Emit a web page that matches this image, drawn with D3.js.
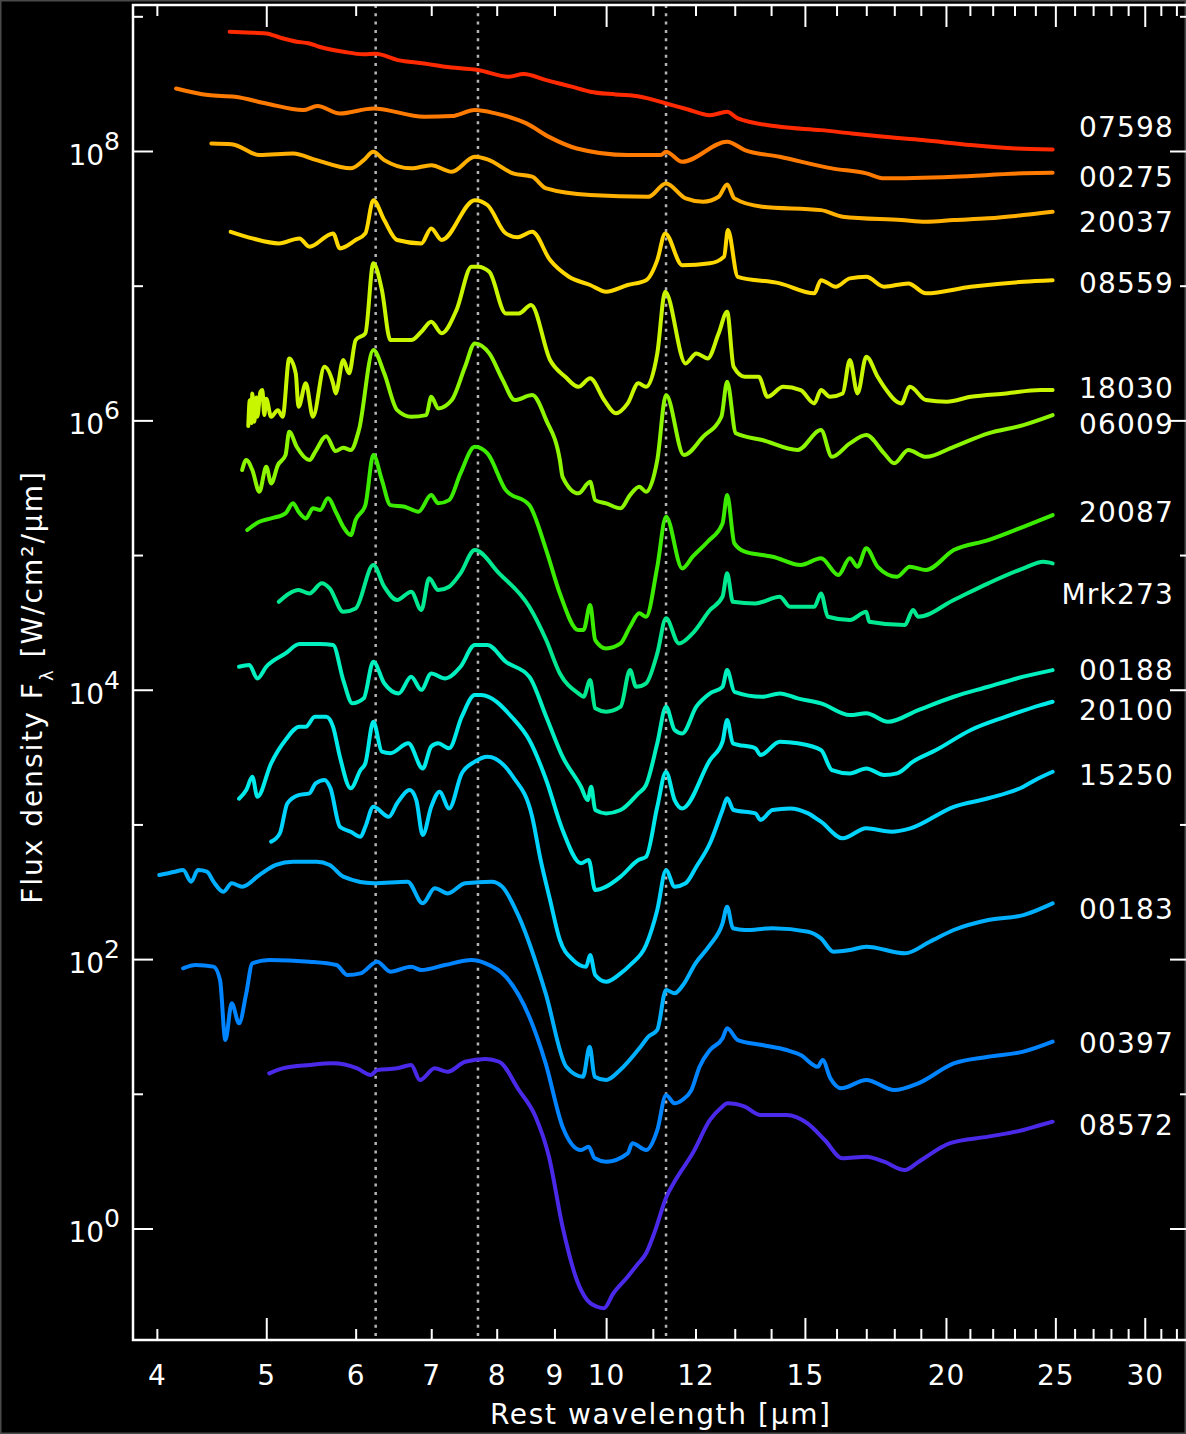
<!DOCTYPE html>
<html>
<head>
<meta charset="utf-8">
<script src="https://cdn.jsdelivr.net/npm/d3@7"></script>
<style>
  html, body { margin: 0; padding: 0; background: #000; }
  svg { display: block; }
</style>
</head>
<body>
<div id="chart"></div>
<script>
// ---------------- DATA ----------------
// Each spectrum: [rest wavelength (µm), log10 Fλ (W/cm²/µm)]
const s07598 = [[4.64,8.885],[4.8,8.88],[5.0,8.873],[5.15,8.84],[5.32,8.811],[5.45,8.80],[5.57,8.774],[5.85,8.737],[6.1,8.718],[6.25,8.722],[6.54,8.675],[6.9,8.65],[7.2,8.625],[7.7,8.601],[8.2,8.551],[8.45,8.571],[8.85,8.526],[9.3,8.48],[9.68,8.44],[10.2,8.42],[10.73,8.403],[11.3,8.353],[11.8,8.31],[12.36,8.266],[12.8,8.291],[13.08,8.242],[14.25,8.18],[15.5,8.155],[16.5,8.13],[17.63,8.105],[19.06,8.081],[21.04,8.044],[23.08,8.019],[24.86,8.012]];
const s00275 = [[4.16,8.464],[4.44,8.415],[4.69,8.403],[5.0,8.353],[5.39,8.304],[5.55,8.334],[5.81,8.279],[6.22,8.316],[6.9,8.254],[7.3,8.259],[7.65,8.304],[7.98,8.279],[8.5,8.205],[8.9,8.105],[9.42,8.019],[10.45,7.97],[11.18,7.97],[11.3,7.995],[11.68,7.92],[12.8,8.069],[13.27,8.007],[14.25,7.957],[15.85,7.871],[17.0,7.834],[17.63,7.797],[20.32,7.809],[23.42,7.834],[24.86,7.838]];
const s20037 = [[4.47,8.056],[4.66,8.051],[4.93,7.97],[5.28,7.982],[5.54,7.932],[5.94,7.871],[6.1,7.932],[6.22,7.994],[6.36,7.932],[6.72,7.871],[7.0,7.895],[7.3,7.846],[7.65,7.957],[7.85,7.938],[8.27,7.834],[8.6,7.809],[8.85,7.722],[9.68,7.673],[10.9,7.66],[11.3,7.759],[11.76,7.648],[12.19,7.623],[12.58,7.66],[12.8,7.752],[12.99,7.648],[13.75,7.586],[15.5,7.561],[16.2,7.512],[18.26,7.487],[19.2,7.475],[20.32,7.487],[21.8,7.5],[23.42,7.524],[24.86,7.549]];
const s08559 = [[4.65,7.4],[4.86,7.351],[5.13,7.314],[5.35,7.351],[5.46,7.289],[5.73,7.388],[5.81,7.277],[6.0,7.339],[6.12,7.388],[6.22,7.635],[6.36,7.487],[6.53,7.339],[6.86,7.314],[7.0,7.425],[7.15,7.339],[7.65,7.635],[7.85,7.599],[8.15,7.388],[8.35,7.36],[8.6,7.40],[8.92,7.19],[9.27,7.066],[9.68,7.005],[10.0,6.955],[10.45,7.005],[10.85,7.041],[11.1,7.19],[11.28,7.388],[11.68,7.152],[12.36,7.166],[12.72,7.216],[12.82,7.413],[13.08,7.066],[14.25,7.017],[15.29,6.943],[15.5,7.041],[15.97,6.992],[16.44,7.054],[17.0,7.066],[17.63,6.992],[18.52,7.017],[19.2,6.943],[21.04,6.992],[23.42,7.029],[24.86,7.041]];
const s18030 = [[4.82,5.958],[4.835,6.15],[4.85,5.98],[4.86,6.2],[4.88,5.99],[4.9,6.17],[4.91,6.027],[4.94,6.21],[4.96,6.225],[4.98,6.04],[5.0,6.16],[5.05,6.027],[5.12,6.076],[5.17,6.027],[5.24,6.46],[5.31,6.349],[5.34,6.101],[5.42,6.275],[5.5,6.027],[5.63,6.398],[5.73,6.275],[5.76,6.2],[5.85,6.448],[5.92,6.349],[6.0,6.596],[6.12,6.646],[6.22,7.166],[6.33,6.967],[6.44,6.596],[6.72,6.596],[6.86,6.658],[7.0,6.732],[7.15,6.646],[7.37,6.819],[7.6,7.141],[7.7,7.141],[7.88,7.103],[8.15,6.794],[8.37,6.794],[8.58,6.856],[8.92,6.448],[9.2,6.324],[9.45,6.249],[9.68,6.312],[9.96,6.151],[10.2,6.052],[10.45,6.126],[10.68,6.275],[10.85,6.249],[11.1,6.497],[11.28,6.955],[11.76,6.423],[12.02,6.497],[12.3,6.46],[12.58,6.646],[12.8,6.806],[12.97,6.398],[13.27,6.324],[13.65,6.324],[13.9,6.175],[14.35,6.249],[14.87,6.225],[15.29,6.126],[15.5,6.225],[15.78,6.175],[16.2,6.2],[16.44,6.448],[16.7,6.2],[17.0,6.473],[17.4,6.324],[17.63,6.249],[18.26,6.126],[18.58,6.249],[19.2,6.151],[20.03,6.139],[21.04,6.175],[22.6,6.2],[24.26,6.225],[24.86,6.225]];
const s06009 = [[4.76,5.631],[4.8,5.705],[4.86,5.631],[4.93,5.47],[5.0,5.656],[5.05,5.532],[5.12,5.668],[5.2,5.742],[5.24,5.915],[5.32,5.804],[5.46,5.705],[5.53,5.772],[5.65,5.883],[5.76,5.772],[5.85,5.797],[5.94,5.78],[6.04,5.928],[6.22,6.522],[6.36,6.349],[6.53,6.076],[6.72,6.027],[6.93,6.039],[7.0,6.175],[7.1,6.089],[7.3,6.151],[7.5,6.398],[7.65,6.571],[7.88,6.497],[8.1,6.299],[8.3,6.151],[8.6,6.188],[8.85,6.002],[9.1,5.705],[9.15,5.581],[9.45,5.458],[9.68,5.544],[9.78,5.408],[10.0,5.384],[10.3,5.347],[10.5,5.445],[10.7,5.507],[10.85,5.47],[11.1,5.705],[11.3,6.188],[11.72,5.742],[12.19,5.879],[12.65,6.027],[12.8,6.287],[13.03,5.904],[13.75,5.854],[14.78,5.78],[15.5,5.928],[15.85,5.729],[16.44,5.829],[17.0,5.891],[17.63,5.755],[18.0,5.681],[18.52,5.78],[19.2,5.729],[20.32,5.804],[21.8,5.904],[23.42,5.965],[24.86,6.039]];
const s20087 = [[4.81,5.186],[4.93,5.247],[5.05,5.272],[5.2,5.31],[5.28,5.384],[5.34,5.322],[5.42,5.272],[5.5,5.347],[5.58,5.334],[5.67,5.421],[5.77,5.31],[5.85,5.21],[5.94,5.148],[6.0,5.26],[6.12,5.371],[6.22,5.742],[6.33,5.557],[6.44,5.371],[6.63,5.359],[6.82,5.322],[7.0,5.445],[7.1,5.384],[7.26,5.408],[7.43,5.606],[7.65,5.804],[7.85,5.755],[8.15,5.482],[8.55,5.371],[8.85,5.037],[9.1,4.715],[9.45,4.443],[9.55,4.443],[9.68,4.629],[9.78,4.369],[10.0,4.307],[10.3,4.344],[10.5,4.468],[10.7,4.567],[10.85,4.542],[11.1,4.913],[11.3,5.284],[11.68,4.901],[11.93,4.988],[12.3,5.099],[12.68,5.235],[12.8,5.445],[12.99,5.087],[13.27,5.025],[13.75,5.0],[14.04,4.988],[14.87,4.926],[15.5,4.976],[16.06,4.852],[16.44,4.976],[16.7,4.913],[17.0,5.05],[17.4,4.913],[18.1,4.839],[18.58,4.913],[19.2,4.889],[20.32,5.037],[21.8,5.111],[23.42,5.21],[24.86,5.297]];
const sMrk273 = [[5.13,4.653],[5.24,4.715],[5.34,4.74],[5.46,4.715],[5.6,4.79],[5.69,4.753],[5.85,4.579],[6.0,4.604],[6.22,4.926],[6.36,4.765],[6.53,4.666],[6.72,4.728],[6.86,4.592],[6.97,4.827],[7.1,4.74],[7.26,4.765],[7.43,4.864],[7.65,5.037],[8.04,4.864],[8.55,4.616],[8.85,4.369],[9.1,4.121],[9.45,3.973],[9.55,3.948],[9.68,4.072],[9.78,3.862],[10.0,3.837],[10.3,3.874],[10.5,4.146],[10.63,4.022],[10.85,4.048],[11.1,4.27],[11.3,4.53],[11.6,4.344],[11.93,4.419],[12.36,4.592],[12.68,4.691],[12.8,4.864],[12.95,4.653],[13.56,4.641],[14.25,4.691],[14.55,4.616],[15.29,4.616],[15.5,4.715],[15.72,4.542],[16.44,4.518],[17.0,4.579],[17.1,4.505],[18.39,4.48],[18.7,4.592],[18.9,4.542],[20.32,4.666],[21.8,4.79],[23.42,4.901],[24.4,4.95],[24.86,4.938]];
const s00188 = [[4.73,4.171],[4.83,4.183],[4.91,4.084],[5.0,4.171],[5.2,4.27],[5.35,4.339],[5.58,4.339],[5.73,4.332],[5.85,4.072],[5.96,3.899],[6.1,3.936],[6.22,4.208],[6.36,4.048],[6.55,3.973],[6.72,4.097],[6.86,3.999],[7.0,4.121],[7.2,4.084],[7.43,4.171],[7.65,4.332],[7.85,4.332],[8.15,4.208],[8.55,4.097],[8.85,3.8],[9.15,3.503],[9.5,3.28],[9.63,3.181],[9.7,3.28],[9.78,3.107],[10.0,3.082],[10.3,3.107],[10.68,3.231],[10.85,3.293],[11.1,3.602],[11.3,3.874],[11.5,3.701],[11.68,3.676],[12.02,3.874],[12.36,3.973],[12.68,4.022],[12.8,4.146],[12.99,3.985],[13.75,3.948],[14.25,3.973],[14.78,3.936],[15.5,3.899],[16.44,3.812],[17.0,3.825],[17.77,3.762],[18.9,3.849],[20.32,3.948],[21.8,4.022],[23.42,4.097],[24.86,4.146]];
const s20100 = [[4.73,3.191],[4.8,3.255],[4.86,3.354],[4.91,3.206],[5.05,3.454],[5.2,3.627],[5.35,3.725],[5.42,3.725],[5.52,3.8],[5.65,3.8],[5.73,3.725],[5.81,3.503],[5.94,3.268],[6.06,3.404],[6.12,3.454],[6.22,3.762],[6.33,3.54],[6.44,3.528],[6.68,3.602],[6.88,3.416],[7.0,3.578],[7.1,3.602],[7.26,3.565],[7.45,3.8],[7.65,3.961],[7.75,3.961],[8.27,3.788],[8.55,3.627],[8.85,3.33],[9.15,2.959],[9.5,2.712],[9.65,2.736],[9.78,2.513],[10.0,2.538],[10.3,2.612],[10.68,2.736],[10.85,2.76],[11.1,3.131],[11.3,3.39],[11.5,3.181],[11.68,3.119],[12.36,3.478],[12.68,3.614],[12.8,3.775],[12.95,3.602],[13.56,3.565],[13.7,3.515],[14.25,3.614],[14.78,3.602],[15.5,3.552],[15.85,3.404],[16.44,3.379],[17.0,3.416],[17.63,3.367],[18.1,3.379],[18.7,3.466],[19.6,3.552],[21.04,3.701],[22.6,3.8],[24.26,3.886],[24.86,3.911]];
const s15250 = [[5.05,2.872],[5.14,2.934],[5.22,3.157],[5.34,3.218],[5.46,3.231],[5.53,3.305],[5.63,3.33],[5.7,3.268],[5.81,2.983],[5.94,2.946],[6.06,2.909],[6.12,2.983],[6.22,3.131],[6.42,3.057],[6.53,3.157],[6.7,3.255],[6.79,3.181],[6.88,2.921],[7.0,3.131],[7.12,3.243],[7.26,3.119],[7.45,3.379],[7.65,3.466],[7.85,3.503],[8.27,3.354],[8.6,3.057],[8.75,2.736],[8.92,2.439],[9.1,2.142],[9.35,1.993],[9.6,1.944],[9.68,2.03],[9.78,1.882],[10.0,1.832],[10.3,1.894],[10.5,1.956],[10.85,2.105],[11.1,2.365],[11.3,2.66],[11.5,2.538],[11.76,2.563],[12.02,2.686],[12.36,2.86],[12.68,3.107],[12.8,3.194],[12.97,3.107],[13.56,3.082],[13.7,3.033],[14.04,3.107],[14.55,3.119],[15.1,3.082],[15.5,3.02],[16.2,2.897],[17.0,2.971],[17.9,2.946],[18.6,2.971],[20.32,3.131],[21.8,3.194],[23.42,3.28],[24.0,3.33],[24.86,3.391]];
const s00183 = [[4.02,2.624],[4.15,2.649],[4.22,2.661],[4.29,2.575],[4.35,2.661],[4.43,2.649],[4.49,2.575],[4.58,2.5],[4.66,2.563],[4.76,2.538],[4.93,2.624],[5.1,2.699],[5.28,2.723],[5.54,2.723],[5.69,2.699],[5.85,2.612],[6.23,2.563],[6.67,2.575],[6.88,2.414],[7.05,2.526],[7.24,2.488],[7.5,2.563],[7.92,2.575],[8.09,2.538],[8.37,2.315],[8.84,1.746],[9.22,1.201],[9.54,1.127],[9.67,1.35],[9.77,1.127],[10.0,1.102],[10.29,1.177],[10.73,1.35],[10.9,1.424],[11.1,1.474],[11.3,1.771],[11.5,1.746],[11.7,1.808],[12.0,1.969],[12.36,2.105],[12.68,2.266],[12.8,2.389],[12.95,2.229],[13.27,2.216],[14.04,2.229],[15.1,2.203],[15.5,2.154],[15.9,2.055],[16.44,2.067],[17.0,2.092],[18.4,2.043],[19.35,2.129],[20.32,2.216],[21.8,2.29],[23.42,2.327],[24.86,2.414]];
const s00397 = [[4.22,1.932],[4.33,1.956],[4.49,1.944],[4.55,1.845],[4.6,1.399],[4.66,1.672],[4.73,1.523],[4.8,1.746],[4.86,1.969],[5.03,1.993],[5.46,1.981],[5.77,1.956],[5.9,1.882],[6.06,1.894],[6.27,1.981],[6.44,1.907],[6.72,1.944],[6.86,1.919],[7.2,1.956],[7.6,1.993],[7.82,1.969],[8.15,1.87],[8.55,1.572],[8.84,1.226],[9.15,0.756],[9.5,0.583],[9.65,0.607],[9.77,0.521],[10.0,0.496],[10.45,0.558],[10.55,0.633],[10.85,0.583],[11.1,0.731],[11.3,0.99],[11.5,0.929],[11.68,0.954],[11.9,1.028],[12.1,1.201],[12.36,1.325],[12.68,1.412],[12.8,1.486],[13.08,1.399],[13.75,1.362],[14.45,1.325],[14.87,1.288],[15.4,1.201],[15.55,1.251],[15.8,1.115],[16.15,1.041],[17.0,1.102],[18.0,1.028],[18.9,1.078],[20.32,1.226],[21.8,1.275],[23.42,1.313],[24.86,1.387]];
const s08572 = [[5.03,1.152],[5.17,1.189],[5.46,1.214],[5.73,1.226],[6.02,1.189],[6.19,1.14],[6.27,1.177],[6.53,1.189],[6.72,1.214],[6.84,1.102],[7.05,1.189],[7.24,1.164],[7.5,1.238],[7.82,1.258],[8.04,1.238],[8.37,1.028],[8.66,0.83],[8.9,0.533],[9.15,0.013],[9.42,-0.382],[9.62,-0.531],[9.82,-0.581],[9.95,-0.593],[10.15,-0.481],[10.45,-0.358],[10.65,-0.271],[10.85,-0.184],[11.03,-0.036],[11.31,0.236],[11.52,0.36],[11.93,0.558],[12.36,0.806],[12.63,0.892],[12.81,0.929],[13.27,0.904],[13.7,0.843],[14.45,0.843],[15.08,0.781],[15.62,0.657],[16.19,0.521],[17.0,0.533],[17.63,0.496],[18.39,0.434],[18.92,0.496],[20.17,0.633],[21.8,0.682],[23.42,0.731],[24.26,0.768],[24.86,0.793]];

const names  = ["07598","00275","20037","08559","18030","06009","20087","Mrk273","00188","20100","15250","00183","00397","08572"];
const spectra = [s07598,s00275,s20037,s08559,s18030,s06009,s20087,sMrk273,s00188,s20100,s15250,s00183,s00397,s08572];
const colors = ["#ff2a00","#ff7a00","#ffb000","#ffd800","#c8f500","#8cf500","#3cec00","#00e890","#00f0c0","#00eaea","#00d4ff","#00b0ff","#0084ff","#4a2ae8"];
// label anchor value (log10 Fλ) at the right of each spectrum
const labelLogF = [8.177,7.806,7.472,7.019,6.240,5.972,5.319,4.710,4.146,3.849,3.366,2.371,1.370,0.761];
// feature lines (µm)
const featureLines = [6.25, 7.7, 11.3];
// axis ticks
const xMinorTicks = [4,6,7,8,9,11,12,13,14,16,17,18,19,21,22,23,24,26,27,28,29,31,32];
const xMajorTicks = [5,10,15,20,25,30];
const xTickLabels = [4,5,6,7,8,9,10,12,15,20,25,30];
const yMajorTicks = [1,1e2,1e4,1e6,1e8];
const yMinorTicks = [1e1,1e3,1e5,1e7,1e9];

// ---------------- LAYOUT ----------------
const W = 1186, H = 1434;
const L = 133, R = 1190, T = 5, B = 1340;
const FONT = "'DejaVu Sans', 'Liberation Sans', sans-serif";

const svg = d3.select("#chart").append("svg")
  .attr("width", W).attr("height", H)
  .style("background", "#000");

svg.append("rect").attr("x", 0).attr("y", 0).attr("width", W).attr("height", H)
  .attr("fill", "#000").attr("stroke", "#4a4a4a").attr("stroke-width", 3);

const x = d3.scaleLog().domain([3.81, 32.9]).range([L, R]);
const y = d3.scaleLog().domain([Math.pow(10, -0.828), Math.pow(10, 9.084)]).range([B, T]);

svg.append("clipPath").attr("id", "plotclip")
  .append("rect").attr("x", L).attr("y", T).attr("width", R - L).attr("height", B - T);

// dotted feature lines
svg.append("g").selectAll("line").data(featureLines).join("line")
  .attr("x1", d => x(d)).attr("x2", d => x(d))
  .attr("y1", T).attr("y2", B)
  .attr("stroke", "#b4b4b4").attr("stroke-width", 2.5)
  .attr("stroke-dasharray", "3,5.3");

// spectra
const line = d3.line()
  .curve(d3.curveMonotoneX)
  .x(d => x(d[0]))
  .y(d => y(Math.pow(10, d[1])));

svg.append("g").attr("clip-path", "url(#plotclip)")
  .selectAll("path").data(spectra).join("path")
  .attr("d", d => line(d))
  .attr("fill", "none")
  .attr("stroke", (d, i) => colors[i])
  .attr("stroke-width", 4)
  .attr("stroke-linejoin", "round")
  .attr("stroke-linecap", "round");

// axes ticks
function styleAxis(g) {
  g.select(".domain").remove();
  g.selectAll(".tick line").attr("stroke", "#fff").attr("stroke-width", 2);
  g.selectAll(".tick text").attr("fill", "#fff");
}
svg.append("g").attr("transform", `translate(0,${B})`)
  .call(d3.axisBottom(x).tickValues(xMinorTicks).tickSize(-11).tickFormat("")).call(styleAxis);
svg.append("g").attr("transform", `translate(0,${B})`)
  .call(d3.axisBottom(x).tickValues(xMajorTicks).tickSize(-22).tickFormat("")).call(styleAxis);
svg.append("g").attr("transform", `translate(0,${T})`)
  .call(d3.axisTop(x).tickValues(xMinorTicks).tickSize(-11).tickFormat("")).call(styleAxis);
svg.append("g").attr("transform", `translate(0,${T})`)
  .call(d3.axisTop(x).tickValues(xMajorTicks).tickSize(-22).tickFormat("")).call(styleAxis);
svg.append("g").attr("transform", `translate(${L},0)`)
  .call(d3.axisLeft(y).tickValues(yMajorTicks).tickSize(-20).tickFormat("")).call(styleAxis);
svg.append("g").attr("transform", `translate(${L},0)`)
  .call(d3.axisLeft(y).tickValues(yMinorTicks).tickSize(-10).tickFormat("")).call(styleAxis);
svg.append("g").attr("transform", `translate(${R},0)`)
  .call(d3.axisRight(y).tickValues(yMajorTicks).tickSize(-20).tickFormat("")).call(styleAxis);
svg.append("g").attr("transform", `translate(${R},0)`)
  .call(d3.axisRight(y).tickValues(yMinorTicks).tickSize(-10).tickFormat("")).call(styleAxis);

// x tick labels
const xl = svg.append("g").attr("transform", `translate(0,${B})`)
  .call(d3.axisBottom(x).tickValues(xTickLabels).tickSize(0).tickPadding(25).tickFormat(d3.format("d")))
  .call(styleAxis);
xl.selectAll(".tick text").attr("font-family", FONT).attr("font-size", 28).attr("letter-spacing", 1);

// y tick labels with superscript exponents
const yl = svg.append("g").attr("transform", `translate(${L},0)`)
  .call(d3.axisLeft(y).tickValues(yMajorTicks).tickSize(0).tickPadding(13).tickFormat(""))
  .call(styleAxis);
yl.selectAll(".tick text").each(function(d) {
  const t = d3.select(this).attr("font-family", FONT).attr("font-size", 28).attr("dy", "0.48em");
  t.append("tspan").text("10");
  t.append("tspan").attr("font-size", 25).attr("dy", -15).text(Math.round(Math.log10(d)));
});

// frame
svg.append("rect").attr("x", L).attr("y", T).attr("width", R - L).attr("height", B - T)
  .attr("fill", "none").attr("stroke", "#fff").attr("stroke-width", 2.5);

// spectrum labels
svg.append("g").selectAll("text").data(names).join("text")
  .attr("x", 1174)
  .attr("y", (d, i) => y(Math.pow(10, labelLogF[i])))
  .attr("text-anchor", "end")
  .attr("dominant-baseline", "central")
  .attr("font-family", FONT).attr("font-size", 28).attr("letter-spacing", 1.2)
  .attr("fill", "#fff")
  .text(d => d);

// axis titles
svg.append("text")
  .attr("x", 490).attr("y", 1424)
  .attr("textLength", 340).attr("lengthAdjust", "spacing")
  .attr("font-family", FONT).attr("font-size", 28).attr("fill", "#fff")
  .text("Rest wavelength [µm]");

const yt = svg.append("text")
  .attr("transform", "translate(42,687) rotate(-90)")
  .attr("text-anchor", "middle")
  .attr("font-family", FONT).attr("font-size", 28).attr("fill", "#fff")
  .attr("letter-spacing", 2);
yt.append("tspan").text("Flux density F");
yt.append("tspan").attr("font-size", 18).attr("baseline-shift", "sub").text("λ");
yt.append("tspan").text(" [W/cm²/µm]");
</script>
</body>
</html>
